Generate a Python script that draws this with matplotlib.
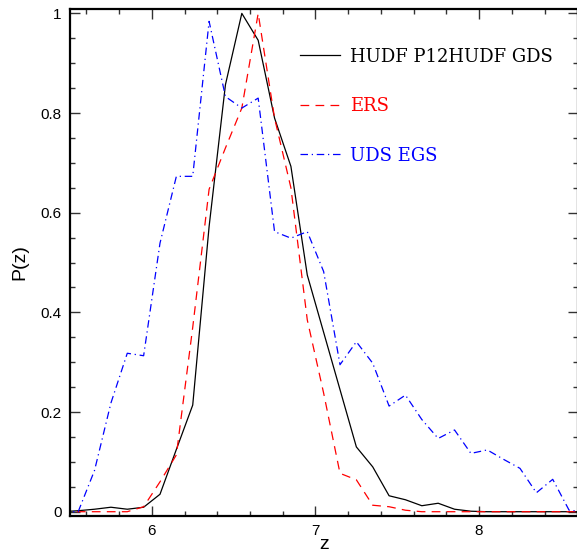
import matplotlib
matplotlib.use("Agg")
import matplotlib.pyplot as plt
import numpy as np
from matplotlib.ticker import MultipleLocator

z = [5.45, 5.55, 5.65, 5.75, 5.85, 5.95, 6.05, 6.15, 6.25, 6.35, 6.45, 6.55,
     6.65, 6.75, 6.85, 6.95, 7.05, 7.15, 7.25, 7.35, 7.45, 7.55, 7.65, 7.75,
     7.85, 7.95, 8.05, 8.15, 8.25, 8.35, 8.45, 8.55, 8.65]

p_hudf = [0.0, 0.002, 0.005, 0.009, 0.005, 0.009, 0.035, 0.125, 0.214, 0.572,
          0.857, 1.0, 0.946, 0.79, 0.693, 0.475, 0.36, 0.245, 0.13, 0.09,
          0.032, 0.024, 0.012, 0.017, 0.005, 0.001, 0.0, 0.0, 0.0, 0.0, 0.0,
          0.0, 0.0]

p_ers = [0.0, 0.0, 0.0, 0.0, 0.0, 0.01, 0.06, 0.114, 0.37, 0.647, 0.73, 0.81,
         1.0, 0.79, 0.65, 0.385, 0.238, 0.077, 0.064, 0.013, 0.01, 0.003, 0.0,
         0.0, 0.0, 0.0, 0.0, 0.0, 0.0, 0.0, 0.0, 0.0, 0.0]

p_uds = [0.0, 0.0, 0.083, 0.218, 0.318, 0.313, 0.539, 0.673, 0.673, 0.984,
         0.833, 0.81, 0.83, 0.562, 0.549, 0.562, 0.482, 0.295, 0.341, 0.298,
         0.212, 0.234, 0.185, 0.147, 0.164, 0.117, 0.124, 0.105, 0.087, 0.038,
         0.065, 0.003, 0.0]

labels = ["HUDF P12HUDF GDS", "ERS", "UDS EGS"]
colors = ["black", "#ff0000", "#0000ff"]
styles = ["-", (0, (7, 5)), (0, (6, 3, 1, 3))]

W, H = 577, 553
fig = plt.figure(figsize=(W / 100, H / 100), dpi=100)
ax = fig.add_axes([70 / W, 37.3 / H, 507.6 / W, 507 / H])

for series, lab, c, ls in zip([p_hudf, p_ers, p_uds], labels, colors, styles):
    ax.plot(z, series, color=c, linestyle=ls, linewidth=0.9, label=lab)

ax.set_xlim(5.5, 8.602)
ax.set_ylim(-0.008, 1.0094)

ax.xaxis.set_major_locator(MultipleLocator(1))
ax.xaxis.set_minor_locator(MultipleLocator(0.2))
ax.yaxis.set_major_locator(MultipleLocator(0.2))
ax.yaxis.set_minor_locator(MultipleLocator(0.05))
ax.yaxis.set_major_formatter(plt.FuncFormatter(lambda v, p: "0" if abs(v) < 1e-9 else ("1" if abs(v-1) < 1e-9 else f"{v:.1f}")))

ax.tick_params(which="both", direction="in", top=True, right=True,
               width=1.0, color="#333333", labelsize=11)
ax.tick_params(which="major", length=7.5, pad=6)
ax.tick_params(which="minor", length=3.8)
for lbl in ax.get_xticklabels() + ax.get_yticklabels():
    lbl.set_fontfamily("Liberation Sans")
for s in ax.spines.values():
    s.set_linewidth(1.6)

ax.set_xlabel("z", fontsize=14, family="Liberation Sans", labelpad=-1.5)
ax.set_ylabel("P(z)", fontsize=14, family="Liberation Sans", labelpad=9)

leg = ax.legend(loc="upper left", bbox_to_anchor=(230 / 507.6, 1 - 39 / 507),
                frameon=False, handlelength=2.2, handletextpad=0.55,
                labelspacing=1.74, borderpad=0, borderaxespad=0,
                prop={"family": "DejaVu Serif", "size": 13},
                labelcolor="linecolor")

fig.savefig("out.png", dpi=100)
